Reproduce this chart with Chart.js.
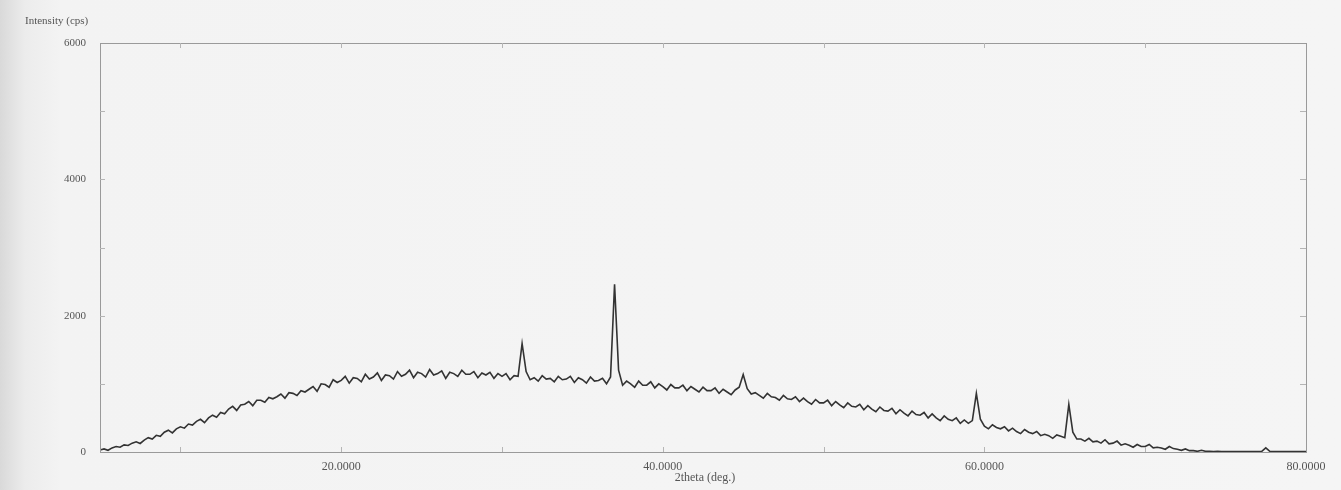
<!DOCTYPE html>
<html>
<head>
<meta charset="utf-8">
<script src="https://cdn.jsdelivr.net/npm/chart.js@4.4.1/dist/chart.umd.min.js"></script>
<style>
  html, body { margin: 0; padding: 0; }
  body {
    width: 1341px; height: 490px; overflow: hidden;
    background: linear-gradient(to right, #d9d9d9 0px, #ececec 25px, #f3f3f3 60px, #f5f5f5 100%);
  }
  #wrap { position: relative; width: 1341px; height: 490px; }
</style>
</head>
<body>
<div id="wrap"><canvas id="myChart"></canvas></div>
<script>
// 2theta start / step (deg), intensity (cps) read every 0.25 deg
let startAngle = 5;
let stepAngle = 0.25;

let intensity = [
  30, 45, 25, 60,        // 5
  80, 70, 105, 95,       // 6
  130, 150, 125, 175,    // 7
  210, 190, 245, 230,    // 8
  290, 320, 280, 340,    // 9
  370, 350, 410, 395,    // 10
  450, 480, 430, 500,    // 11
  540, 510, 580, 560,    // 12
  630, 670, 610, 690,    // 13
  700, 740, 680, 760,    // 14
  760, 730, 800, 780,    // 15
  810, 850, 790, 870,    // 16
  860, 830, 900, 880,    // 17
  920, 960, 890, 1000,   // 18
  990, 950, 1060, 1020,  // 19
  1050, 1110, 1010, 1090,// 20
  1080, 1030, 1140, 1070,// 21
  1100, 1160, 1050, 1130,// 22
  1120, 1070, 1180, 1110,// 23
  1140, 1200, 1090, 1170,// 24
  1150, 1100, 1210, 1130,// 25
  1150, 1190, 1080, 1170,// 26
  1150, 1110, 1200, 1140,// 27
  1140, 1180, 1090, 1160,// 28
  1130, 1170, 1080, 1150,// 29
  1110, 1150, 1060, 1120,// 30
  1110, 1590, 1180, 1060,// 31
  1090, 1040, 1120, 1070,// 32
  1080, 1030, 1110, 1060,// 33
  1070, 1110, 1020, 1090,// 34
  1060, 1010, 1100, 1040,// 35
  1050, 1080, 1000, 1100,// 36
  2460, 1200, 980, 1040, // 37
  1000, 950, 1040, 980,  // 38
  980, 1030, 940, 1000,  // 39
  960, 910, 990, 940,    // 40
  940, 980, 900, 960,    // 41
  920, 880, 950, 900,    // 42
  900, 940, 860, 920,    // 43
  880, 840, 910, 950,    // 44
  1135, 930, 850, 870,   // 45
  830, 790, 860, 810,    // 46
  800, 760, 830, 780,    // 47
  770, 810, 740, 790,    // 48
  740, 700, 770, 720,    // 49
  720, 760, 680, 740,    // 50
  690, 650, 720, 670,    // 51
  660, 700, 620, 680,    // 52
  630, 590, 660, 610,    // 53
  600, 640, 560, 620,    // 54
  570, 530, 600, 550,    // 55
  540, 580, 500, 560,    // 56
  500, 460, 530, 480,    // 57
  460, 500, 420, 470,    // 58
  420, 460, 860, 480,    // 59
  380, 340, 400, 360,    // 60
  340, 370, 310, 350,    // 61
  300, 270, 330, 290,    // 62
  270, 300, 240, 260,    // 63
  240, 200, 250, 230,    // 64
  210, 700, 290, 190,    // 65
  190, 160, 200, 150,    // 66
  160, 130, 180, 120,    // 67
  130, 160, 100, 120,    // 68
  100, 70, 110, 80,      // 69
  80, 110, 60, 70,       // 70
  60, 40, 80, 50,        // 71
  40, 25, 45, 20,        // 72
  20, 10, 25, 10,        // 73
  10, 5, 10, 5,          // 74
  5, 5, 5, 5,            // 75
  5, 5, 5, 5,            // 76
  5, 10, 60, 10,         // 77
  5, 5, 5, 5,            // 78
  5, 5, 5, 5,            // 79
  5                      // 80
];

let xTicks = [20, 40, 60, 80];
let yTicks = [0, 2000, 4000, 6000];
let xMinor = [10, 20, 30, 40, 50, 60, 70];
let yMinor = [1000, 2000, 3000, 4000, 5000];

let points = intensity.map((v, i) => ({ x: startAngle + i * stepAngle, y: v }));

// frame round the plot + small inward ticks
let frame = {
  id: "frame",
  afterDraw(chart) {
    let c = chart.ctx, a = chart.chartArea;
    let sx = chart.scales.x, sy = chart.scales.y;
    c.save();
    c.strokeStyle = "#9a9a9a";
    c.lineWidth = 1;
    c.strokeRect(a.left + 0.5, a.top + 0.5, a.right - a.left, a.bottom - a.top);
    c.strokeStyle = "#b5b5b5";
    c.beginPath();
    xMinor.forEach(v => {
      let px = Math.round(sx.getPixelForValue(v)) + 0.5;
      c.moveTo(px, a.bottom); c.lineTo(px, a.bottom - 5);
      c.moveTo(px, a.top); c.lineTo(px, a.top + 5);
    });
    yMinor.forEach(v => {
      let py = Math.round(sy.getPixelForValue(v)) + 0.5;
      c.moveTo(a.right, py); c.lineTo(a.right - 6, py);
      c.moveTo(a.left, py); c.lineTo(a.left + 5, py);
    });
    c.stroke();
    // titles
    c.fillStyle = "#555";
    c.font = "11px 'Liberation Serif', 'DejaVu Serif', serif";
    c.textAlign = "left";
    c.textBaseline = "alphabetic";
    c.fillText("Intensity (cps)", 25, 24);
    c.textAlign = "center";
    c.font = "12px 'Liberation Serif', 'DejaVu Serif', serif";
    c.fillText("2theta (deg.)", 705, 481);
    c.restore();
  }
};

let ctx = document.getElementById("myChart");

let chartt = new Chart(ctx, {
  type: "line",
  data: {
    datasets: [
      {
        data: points,
        borderColor: "#333333",
        borderWidth: 1.6,
        pointRadius: 0,
        tension: 0,
        fill: false,
      },
    ],
  },
  options: {
    responsive: true,
    maintainAspectRatio: false,
    animation: false,
    layout: { padding: { top: 43, right: 35, left: 0, bottom: 0 } },
    plugins: {
      legend: { display: false },
      tooltip: { enabled: false },
    },
    scales: {
      x: {
        type: "linear",
        min: 5,
        max: 80,
        afterBuildTicks: (s) => { s.ticks = xTicks.map(v => ({ value: v })); },
        afterFit: (s) => { s.height = 38; },
        grid: { display: false },
        border: { display: false },
        ticks: {
          color: "#555",
          padding: 0,
          maxRotation: 0,
          font: { family: "'Liberation Serif', 'DejaVu Serif', serif", size: 12 },
          callback: (v) => Number(v).toFixed(4),
        },
      },
      y: {
        min: 0,
        max: 6000,
        afterBuildTicks: (s) => { s.ticks = yTicks.map(v => ({ value: v })); },
        afterFit: (s) => { s.width = 100; },
        grid: { display: false },
        border: { display: false },
        ticks: {
          color: "#555",
          padding: 6,
          font: { family: "'Liberation Serif', 'DejaVu Serif', serif", size: 11 },
          callback: (v) => String(v),
        },
      },
    },
  },
  plugins: [frame],
});
</script>
</body>
</html>
